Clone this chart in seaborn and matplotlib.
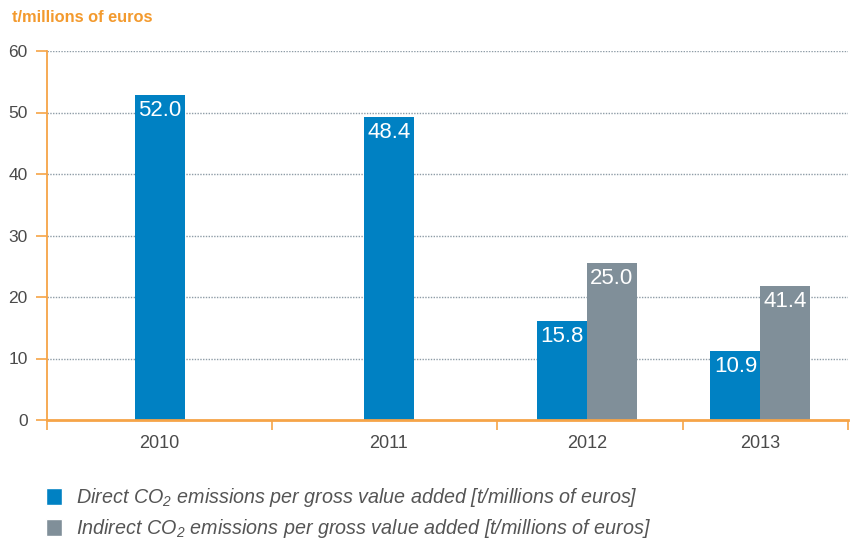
import numpy as np
import pandas as pd
import matplotlib
matplotlib.use("Agg")
import matplotlib.pyplot as plt
from matplotlib.patches import Patch
import seaborn as sns

# ---- data ----
years = ["2010", "2011", "2012", "2013"]
direct_values = [52.8, 49.3, 16.1, 11.2]          # bar heights as drawn
direct_labels = ["52.0", "48.4", "15.8", "10.9"]  # printed labels
indirect_years = ["2012", "2013"]
indirect_values = [25.5, 21.8]
indirect_labels = ["25.0", "41.4"]
y_ticks = [0, 10, 20, 30, 40, 50, 60]
unit_title = "t/millions of euros"
legend_labels = [
    r"Direct CO$_\mathregular{2}$ emissions per gross value added [t/millions of euros]",
    r"Indirect CO$_\mathregular{2}$ emissions per gross value added [t/millions of euros]",
]

# ---- layout (non-uniform category slots, in axis units) ----
slot_bounds = [0, 225, 450, 636, 801]
group_centers = [112.5, 342, 540, 713.5]
bar_w = 50

BLUE = "#0081C3"
GREY = "#808F99"
ORANGE = "#F6A447"
TITLE_OR = "#F39A2E"
TXT = "#4A4A4A"

sns.set_theme(style="white")
plt.rcParams["font.family"] = ["Liberation Sans", "DejaVu Sans"]
plt.rcParams["mathtext.fontset"] = "custom"
plt.rcParams["mathtext.rm"] = "Liberation Sans"
plt.rcParams["mathtext.it"] = "Liberation Sans:italic"

fig = plt.figure(figsize=(8.51, 5.41), dpi=100)
ax = fig.add_axes([47 / 851, 1 - 420 / 541, 801 / 851, 369 / 541])

has_ind = {y: True for y in indirect_years}
d_pos = [c - bar_w / 2 if y in has_ind else c for y, c in zip(years, group_centers)]
i_pos = [group_centers[years.index(y)] + bar_w / 2 for y in indirect_years]

df_d = pd.DataFrame({"pos": d_pos, "value": direct_values})
df_i = pd.DataFrame({"pos": i_pos, "value": indirect_values})

def native(p):
    u = np.unique(p)
    return np.min(np.diff(u)) if len(u) > 1 else 1

sns.barplot(data=df_d, x="pos", y="value", native_scale=True, ax=ax,
            width=bar_w / native(d_pos), color=BLUE, saturation=1,
            errorbar=None, linewidth=0)
sns.barplot(data=df_i, x="pos", y="value", native_scale=True, ax=ax,
            width=bar_w / native(i_pos), color=GREY, saturation=1,
            errorbar=None, linewidth=0)

for p, v, lab in zip(d_pos, direct_values, direct_labels):
    ax.annotate(lab, (p, v), xytext=(0, -11), textcoords="offset points",
                ha="center", va="center", color="white", fontsize=16)
for p, v, lab in zip(i_pos, indirect_values, indirect_labels):
    ax.annotate(lab, (p, v), xytext=(0, -11), textcoords="offset points",
                ha="center", va="center", color="white", fontsize=16)

ax.set_xlim(slot_bounds[0], slot_bounds[-1])
ax.set_ylim(0, 60)
ax.set_yticks(y_ticks)
ax.set_yticklabels([str(t) for t in y_ticks], color=TXT, fontsize=12.5)
ax.set_xticks(slot_bounds)
ax.set_xticklabels([""] * len(slot_bounds))
ax.set_xticks(group_centers, minor=True)
ax.set_xticklabels(years, minor=True, color=TXT, fontsize=13)
ax.tick_params(axis="x", which="major", direction="out", length=7.5,
               width=1.2, color=ORANGE, bottom=True)
ax.tick_params(axis="x", which="minor", length=0, pad=11)
ax.tick_params(axis="y", direction="out", length=8, width=1.2,
               color=ORANGE, pad=6, left=True)
ax.set_xlabel("")
ax.set_ylabel("")

for y in y_ticks[1:]:
    ax.axhline(y, color="#8E9CA6", lw=1, ls=(0, (1, 1)), zorder=0)

for s in ["top", "right"]:
    ax.spines[s].set_visible(False)
ax.spines["left"].set_color(ORANGE)
ax.spines["left"].set_linewidth(1.3)
ax.spines["bottom"].set_color(ORANGE)
ax.spines["bottom"].set_linewidth(2)
ax.spines["bottom"].set_zorder(5)

fig.text(12 / 851, 1 - 18 / 541, unit_title, color=TITLE_OR, fontsize=11.8,
         fontweight="bold", ha="left", va="center")

handles = [Patch(facecolor=BLUE), Patch(facecolor=GREY)]
leg = fig.legend(handles, legend_labels, loc="upper left",
                 bbox_to_anchor=(46 / 851, 1 - 486 / 541), frameon=False,
                 fontsize=14.2, handlelength=0.8, handleheight=0.95,
                 handletextpad=0.7, labelspacing=0.42, borderpad=0,
                 borderaxespad=0)
for t in leg.get_texts():
    t.set_color("#555555")
    t.set_style("italic")

fig.savefig("out.png", dpi=100)
